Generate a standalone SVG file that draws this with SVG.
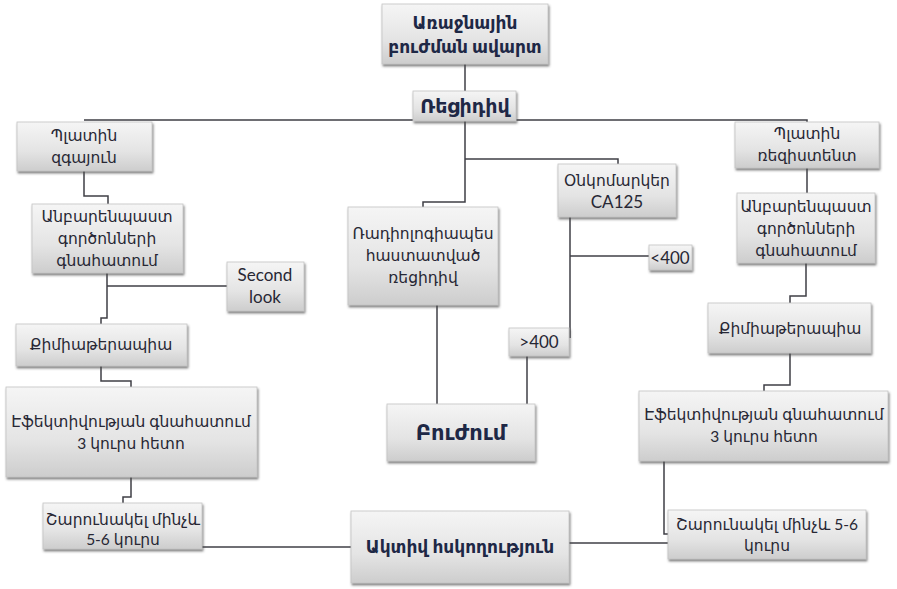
<svg xmlns="http://www.w3.org/2000/svg" width="897" height="589" viewBox="0 0 897 589">
<defs>
<linearGradient id="g" x1="0" y1="0" x2="0" y2="1">
<stop offset="0" stop-color="#f5f5f5"/>
<stop offset="0.6" stop-color="#e4e4e4"/>
<stop offset="1" stop-color="#cdcdcd"/>
</linearGradient>
<filter id="sh" x="-10%" y="-10%" width="125%" height="135%">
<feDropShadow dx="1" dy="2" stdDeviation="1.2" flood-color="#4a4a4a" flood-opacity="0.7"/>
</filter>
</defs>
<style>
.box{fill:url(#g);stroke:#c4c4c4;stroke-width:0.8;filter:url(#sh)}
.t{font-family:"Lato","DejaVu Sans",sans-serif;font-size:15.5px;fill:#272734;text-anchor:middle}
.l{font-size:17px}
.b{font-family:"Lato","DejaVu Sans",sans-serif;font-weight:bold;fill:#1e2846;text-anchor:middle}
.c{fill:none;stroke:#3f3f46;stroke-width:1.5}
</style>
<rect width="897" height="589" fill="#ffffff"/>
<g id="connectors">
<path class="c" d="M465,64 V91"/>
<path class="c" d="M84,120 H807 V122"/>
<path class="c" d="M84,171 V196 H108 V204"/>
<path class="c" d="M107,273 V318 H101 V324"/>
<path class="c" d="M107,286 H227"/>
<path class="c" d="M101,366 V381 H131 V387"/>
<path class="c" d="M131,477 V497 H123 V503"/>
<path class="c" d="M202,547 H351"/>
<path class="c" d="M569,543 H668"/>
<path class="c" d="M664,461 V534 H668"/>
<path class="c" d="M790,353 V385 H764 V391"/>
<path class="c" d="M806,263 V296 H790 V303"/>
<path class="c" d="M807,168 V193"/>
<path class="c" d="M465,121 V202 H423 V207"/>
<path class="c" d="M465,159 H618 V164"/>
<path class="c" d="M570,217 V338"/>
<path class="c" d="M570,256 H649"/>
<path class="c" d="M527,356 V404"/>
<path class="c" d="M437,305 V404"/>
</g>
<g id="n-start"><rect class="box" x="382" y="4" width="166" height="60"/>
<text class="b" font-size="17" x="465" y="29">Առաջնային</text>
<text class="b" font-size="17" x="465" y="53">բուժման ավարտ</text></g>
<g id="n-recidiv"><rect class="box" x="413" y="91" width="103" height="30"/>
<text class="b" font-size="19" x="465" y="113">Ռեցիդիվ</text></g>
<g id="n-plat-sens"><rect class="box" x="17" y="122" width="135" height="49"/>
<text class="t" x="84" y="141">Պլատին</text>
<text class="t" x="84" y="163">զգայուն</text></g>
<g id="n-plat-res"><rect class="box" x="735" y="122" width="144" height="46"/>
<text class="t" x="807" y="139">Պլատին</text>
<text class="t" x="807" y="161">ռեզիստենտ</text></g>
<g id="n-onco"><rect class="box" x="558" y="164" width="118" height="53"/>
<text class="t" x="617" y="186">Օնկոմարկեր</text>
<text class="t l" x="617" y="208">CA125</text></g>
<g id="n-radio"><rect class="box" x="348" y="207" width="150" height="98"/>
<text class="t" x="423" y="239">Ռադիոլոգիապես</text>
<text class="t" x="423" y="261">հաստատված</text>
<text class="t" x="423" y="283">ռեցիդիվ</text></g>
<g id="n-lt400"><rect class="box" x="649" y="245" width="43" height="25"/>
<text class="t l" x="670" y="264">&lt;400</text></g>
<g id="n-gt400"><rect class="box" x="509" y="328" width="60" height="28"/>
<text class="t l" x="539" y="348">&gt;400</text></g>
<g id="n-treat"><rect class="box" x="387" y="404" width="148" height="57"/>
<text class="b" font-size="21" x="461" y="440">Բուժում</text></g>
<g id="n-active"><rect class="box" x="351" y="511" width="218" height="72"/>
<text class="b" font-size="17" x="460" y="553">Ակտիվ հսկողություն</text></g>
<g id="n-l-factors"><rect class="box" x="32" y="204" width="151" height="69"/>
<text class="t" x="107" y="222">Անբարենպաստ</text>
<text class="t" x="107" y="244">գործոնների</text>
<text class="t" x="107" y="266">գնահատում</text></g>
<g id="n-second"><rect class="box" x="227" y="262" width="77" height="49"/>
<text class="t l" x="265" y="281">Second</text>
<text class="t l" x="265" y="303">look</text></g>
<g id="n-l-chemo"><rect class="box" x="16" y="324" width="171" height="42"/>
<text class="t" x="101" y="350">Քիմիաթերապիա</text></g>
<g id="n-l-eff"><rect class="box" x="6" y="387" width="251" height="90"/>
<text class="t" x="131" y="427">Էֆեկտիվության գնահատում</text>
<text class="t" x="131" y="449">3 կուրս հետո</text></g>
<g id="n-l-cont"><rect class="box" x="43" y="503" width="159" height="46"/>
<text class="t" x="123" y="525">Շարունակել մինչև</text>
<text class="t" x="123" y="545">5-6  կուրս</text></g>
<g id="n-r-factors"><rect class="box" x="737" y="193" width="138" height="70"/>
<text class="t" x="806" y="212">Անբարենպաստ</text>
<text class="t" x="806" y="234">գործոնների</text>
<text class="t" x="806" y="256">գնահատում</text></g>
<g id="n-r-chemo"><rect class="box" x="708" y="303" width="163" height="50"/>
<text class="t" x="790" y="334">Քիմիաթերապիա</text></g>
<g id="n-r-eff"><rect class="box" x="639" y="391" width="249" height="70"/>
<text class="t" x="764" y="420">Էֆեկտիվության գնահատում</text>
<text class="t" x="764" y="442">3 կուրս հետո</text></g>
<g id="n-r-cont"><rect class="box" x="668" y="510" width="198" height="49"/>
<text class="t" x="767" y="530">Շարունակել մինչև 5-6</text>
<text class="t" x="767" y="551">կուրս</text></g>
</svg>
